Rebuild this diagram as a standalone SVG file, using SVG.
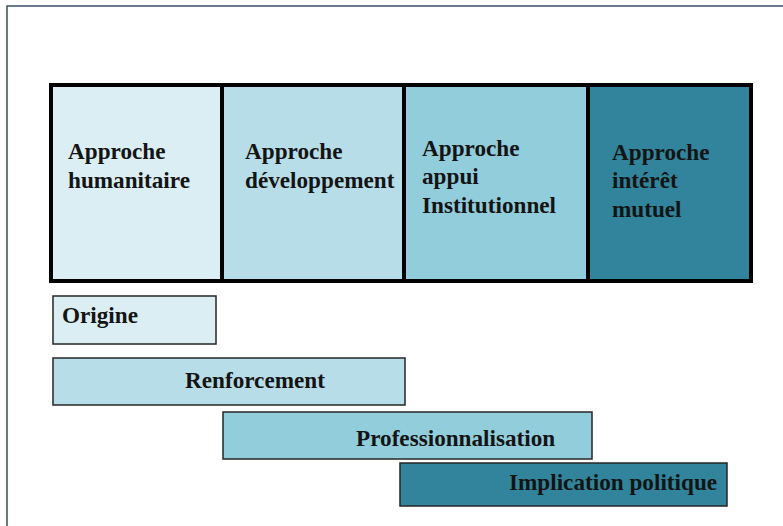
<svg xmlns="http://www.w3.org/2000/svg" width="783" height="526" viewBox="0 0 783 526">
<style>
.t{font-family:"Liberation Serif","Times New Roman",serif;font-weight:bold;font-size:23.2px;fill:#141414}
.cell{stroke:#000;stroke-width:4}
.bar{stroke:#262626;stroke-width:1.5}
.c1{fill:#daeef3}.c2{fill:#b7dee8}.c3{fill:#92cddc}.c4{fill:#31849b}
</style>
<rect x="0" y="0" width="783" height="526" fill="#fff"/>
<rect x="7" y="6" width="800" height="600" fill="none" stroke="#3b4f66" stroke-width="1.5"/>
<g id="cell-humanitaire">
<rect class="cell c1" x="51" y="85" width="171" height="196"/>
<text class="t" x="68" y="159">Approche</text>
<text class="t" x="68" y="188">humanitaire</text>
</g>
<g id="cell-developpement">
<rect class="cell c2" x="222" y="85" width="182" height="196"/>
<text class="t" x="245" y="159">Approche</text>
<text class="t" x="245" y="188">développement</text>
</g>
<g id="cell-institutionnel">
<rect class="cell c3" x="404" y="85" width="184" height="196"/>
<text class="t" x="422" y="156">Approche</text>
<text class="t" x="422" y="184">appui</text>
<text class="t" x="422" y="213">Institutionnel</text>
</g>
<g id="cell-mutuel">
<rect class="cell c4" x="588" y="85" width="163" height="196"/>
<text class="t" x="612" y="160">Approche</text>
<text class="t" x="612" y="188">intérêt</text>
<text class="t" x="612" y="217">mutuel</text>
</g>
<g id="bar-origine">
<rect class="bar c1" x="53" y="296" width="163" height="48"/>
<text class="t" x="62" y="323">Origine</text>
</g>
<g id="bar-renforcement">
<rect class="bar c2" x="53" y="358" width="352" height="47"/>
<text class="t" x="185" y="388">Renforcement</text>
</g>
<g id="bar-professionnalisation">
<rect class="bar c3" x="223" y="412" width="369" height="47"/>
<text class="t" x="356" y="446">Professionnalisation</text>
</g>
<g id="bar-implication">
<rect class="bar c4" x="400" y="463" width="327" height="43"/>
<text class="t" x="509" y="490">Implication politique</text>
</g>
<g id="connectors"/>
</svg>
